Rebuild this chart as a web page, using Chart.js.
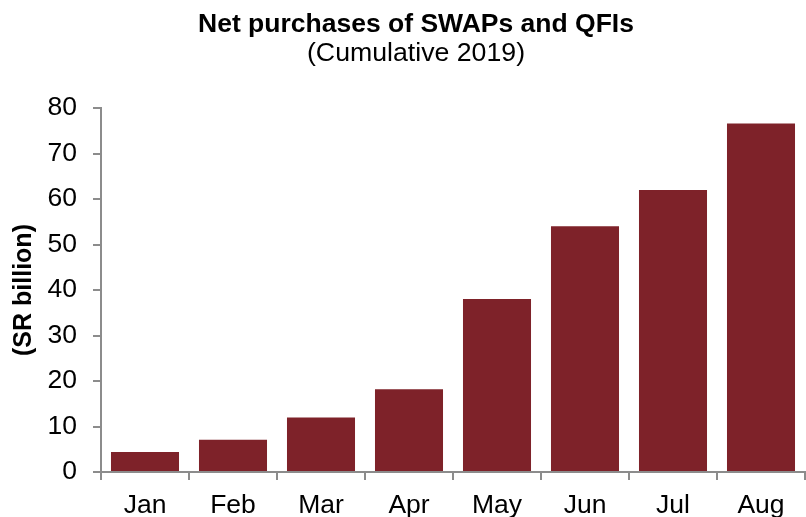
<!DOCTYPE html>
<html>
<head>
<meta charset="utf-8">
<script src="https://cdn.jsdelivr.net/npm/chart.js@4.4.1/dist/chart.umd.min.js"></script>
<style>
  html, body { margin: 0; padding: 0; background: #ffffff; }
  #wrap { width: 806px; height: 517px; position: relative; }
</style>
</head>
<body>
<div id="wrap"><canvas id="c" width="806" height="517"></canvas></div>
<script>
const categories = ["Jan", "Feb", "Mar", "Apr", "May", "Jun", "Jul", "Aug"];
const netPurchases = [4.4, 7.1, 12.0, 18.2, 38.0, 54.0, 62.0, 76.6];
const yTicks = [0, 10, 20, 30, 40, 50, 60, 70, 80];
const titleText = "Net purchases of SWAPs and QFIs";
const subtitleText = "(Cumulative 2019)";
const yAxisTitle = "(SR billion)";

const FONT = '"Liberation Sans", Arial, Helvetica, sans-serif';
const AXIS = '#8c8c8c';

const textPlugin = {
  id: 'textPlugin',
  afterDraw(chart) {
    const ctx = chart.ctx;
    ctx.save();
    ctx.fillStyle = '#000';
    ctx.textAlign = 'center';
    ctx.textBaseline = 'alphabetic';
    ctx.font = 'bold 26.5px ' + FONT;
    ctx.fillText(titleText, 416, 32);
    ctx.font = '26.7px ' + FONT;
    ctx.fillText(subtitleText, 416, 61);
    ctx.restore();
  }
};

new Chart(document.getElementById('c'), {
  type: 'bar',
  data: {
    labels: categories,
    datasets: [{
      data: netPurchases,
      backgroundColor: '#7e2229',
      borderWidth: 0,
      barPercentage: 0.773,
      categoryPercentage: 1.0
    }]
  },
  options: {
    responsive: false,
    animation: false,
    devicePixelRatio: 1,
    layout: { padding: { top: 108, right: 1, left: 0, bottom: 0 } },
    plugins: {
      legend: { display: false },
      title: { display: false },
      tooltip: { enabled: false }
    },
    scales: {
      x: {
        offset: true,
        grid: {
          display: true,
          offset: true,
          drawOnChartArea: false,
          drawTicks: true,
          tickLength: 8,
          color: AXIS,
          lineWidth: 2
        },
        border: { display: true, color: AXIS, width: 2 },
        ticks: {
          color: '#000',
          font: { family: FONT, size: 26.5 },
          padding: 10,
          maxRotation: 0,
          autoSkip: false
        },
        afterFit(scale) { scale.height = 45; }
      },
      y: {
        min: 0,
        max: 80,
        afterBuildTicks(scale) { scale.ticks = yTicks.map(v => ({ value: v })); },
        title: {
          display: true,
          text: yAxisTitle,
          color: '#000',
          font: { family: FONT, size: 25, weight: 'bold' },
          padding: { top: 9, bottom: 0 }
        },
        grid: {
          display: true,
          drawOnChartArea: false,
          drawTicks: true,
          tickLength: 8,
          color: AXIS,
          lineWidth: 2
        },
        border: { display: true, color: AXIS, width: 2 },
        ticks: {
          color: '#000',
          font: { family: FONT, size: 26.5 },
          padding: 16
        },
        afterFit(scale) { scale.width = 101; }
      }
    }
  },
  plugins: [textPlugin]
});
</script>
</body>
</html>
